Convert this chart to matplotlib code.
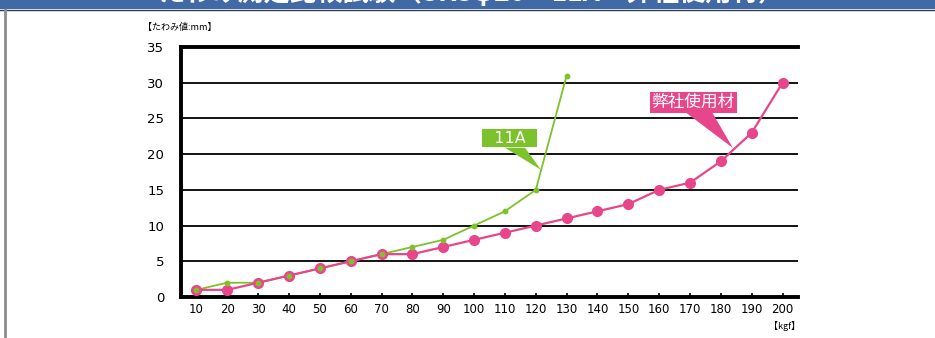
import matplotlib
matplotlib.use('Agg')
import matplotlib.pyplot as plt
from matplotlib.patches import Rectangle, Polygon
from matplotlib.lines import Line2D

plt.rcParams['font.family'] = ['Noto Sans CJK JP', 'DejaVu Sans']

# データ
loads = [10, 20, 30, 40, 50, 60, 70, 80, 90, 100,
         110, 120, 130, 140, 150, 160, 170, 180, 190, 200]
ours = [1, 1, 2, 3, 4, 5, 6, 6, 7, 8,
        9, 10, 11, 12, 13, 15, 16, 19, 23, 30]
a11 = [1, 2, 2, 3, 4, 5, 6, 7, 8, 10, 12, 15, 31]
y_ticks = [0, 5, 10, 15, 20, 25, 30, 35]

pink = '#e8468b'
green = '#7cc22b'

fig = plt.figure(figsize=(9.35, 3.38), dpi=100)

# タイトルバー（上部で切れている）
fig.patches.append(Rectangle((0, 1 - 9 / 338), 1, 9 / 338, transform=fig.transFigure,
                             facecolor='#4169a6', edgecolor='none', zorder=0))
fig.lines.append(Line2D([0, 1], [1 - 9.5 / 338, 1 - 9.5 / 338], transform=fig.transFigure,
                        color='#2b3a55', lw=1))
fig.lines.append(Line2D([5 / 935, 5 / 935], [0, 1 - 9.5 / 338], transform=fig.transFigure,
                        color='#8c8c8c', lw=2))
fig.text(472 / 935, 1 - 1 / 338, 'たわみ測定比較試験（SKSφ20・11A・弊社使用材）', color='white',
         fontsize=19, fontweight='bold', ha='center', va='baseline')

ax = fig.add_axes([181 / 935, 1 - 297 / 338, 617 / 935, 250 / 338])
x = list(range(len(loads)))

ax.plot(x[:len(a11)], a11, color=green, lw=1.3, zorder=3)
ax.plot(x, ours, color=pink, lw=1.6, marker='o', ms=7, zorder=4)
ax.plot(x[:len(a11)], a11, color=green, lw=0, marker='o', ms=3.2, zorder=5)

ax.set_xlim(-0.5, len(loads) - 0.5)
ax.set_ylim(0, 35)
ax.set_xticks(x)
ax.set_xticklabels([str(v) for v in loads], family='DejaVu Sans', fontsize=8.5)
ax.set_yticks(y_ticks)
ax.set_yticklabels([str(v) for v in y_ticks], family='DejaVu Sans', fontsize=9.5)
ax.tick_params(axis='x', direction='in', length=3, width=1.2, pad=4, color='black')
ax.tick_params(axis='y', length=0, pad=12)

for v in y_ticks[1:-1]:
    ax.axhline(v, color='black', lw=1.3, zorder=1)
ax.axhline(35, color='black', lw=2.8, zorder=1, clip_on=False)

for s in ['right', 'top']:
    ax.spines[s].set_visible(False)
for s in ['left', 'bottom']:
    ax.spines[s].set_linewidth(2.8)
ax.spines['left'].set_capstyle('projecting')

# 吹き出し
ax.add_patch(Polygon([[10.0, 20.9], [10.65, 20.9], [11.17, 17.8]], closed=True,
                     facecolor=green, edgecolor='none', zorder=6))
ax.text(10.16, 22.25, '  11A  ', color='white', fontsize=11.5, ha='center', va='center',
        family='DejaVu Sans', zorder=7,
        bbox=dict(boxstyle='square,pad=0.1', facecolor=green, edgecolor='none'))
ax.add_patch(Polygon([[15.84, 25.9], [16.71, 25.9], [17.39, 20.86]], closed=True,
                     facecolor=pink, edgecolor='none', zorder=6))
ax.text(16.1, 27.3, '弊社使用材', color='white', fontsize=12, ha='center', va='center',
        zorder=7, bbox=dict(boxstyle='square,pad=0.12', facecolor=pink, edgecolor='none'))

fig.text(143 / 935, 1 - 27 / 338, '【たわみ値:mm】', fontsize=6.5, va='center', ha='left')
fig.text(800 / 935, 1 - 326 / 338, '【kgf】', fontsize=6.5, va='center', ha='right')

fig.savefig('out.png', dpi=100)
